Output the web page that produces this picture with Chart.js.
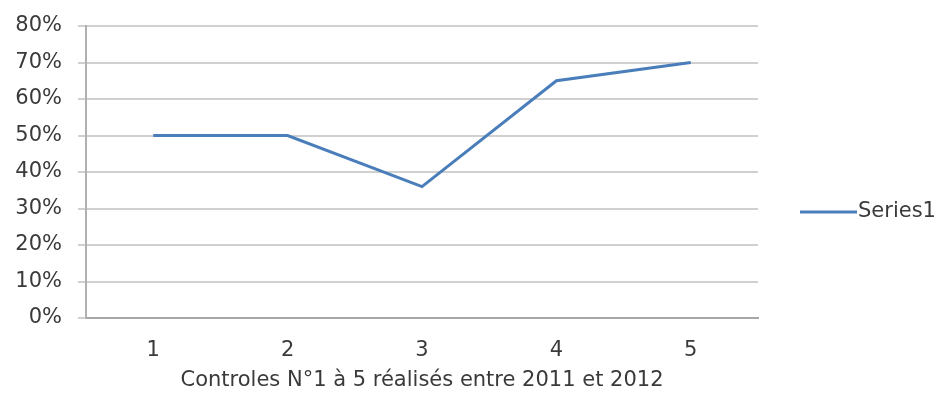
<!DOCTYPE html>
<html><head><meta charset="utf-8">
<script src="https://cdn.jsdelivr.net/npm/chart.js@4/dist/chart.umd.min.js"></script>
<style>html,body{margin:0;padding:0;background:#fff}#wrap{width:937px;height:393px}</style>
</head><body><div id="wrap"><canvas id="c" width="937" height="393"></canvas></div>
<script>
const categories = ['1', '2', '3', '4', '5'];
const series1 = [50, 50, 36, 65, 70];
const seriesName = 'Series1';
const xTitle = 'Controles N°1 à 5 réalisés entre 2011 et 2012';
const yTicks = [0, 10, 20, 30, 40, 50, 60, 70, 80];

const FONT = '"DejaVu Sans", "Open Sans", sans-serif';
const TXT = '#3a3a3a';
const FS = 21;

const legendPlugin = {
  id: 'sideLegend',
  afterDraw(chart) {
    const ctx = chart.ctx;
    const ds = chart.data.datasets[0];
    const y = 212;
    ctx.save();
    ctx.strokeStyle = ds.borderColor;
    ctx.lineWidth = 3;
    ctx.beginPath();
    ctx.moveTo(800, y);
    ctx.lineTo(857, y);
    ctx.stroke();
    ctx.fillStyle = TXT;
    ctx.font = FS + 'px ' + FONT;
    ctx.textBaseline = 'middle';
    ctx.textAlign = 'left';
    ctx.fillText(ds.label, 858, y);
    ctx.restore();
  }
};

new Chart(document.getElementById('c'), {
  type: 'line',
  data: {
    labels: categories,
    datasets: [{
      label: seriesName,
      data: series1,
      borderColor: '#4A7EBB',
      borderWidth: 3,
      pointRadius: 0,
      tension: 0,
      fill: false
    }]
  },
  options: {
    responsive: false,
    animation: false,
    layout: { padding: { left: 10, right: 179, top: 26, bottom: 0 } },
    plugins: { legend: { display: false }, tooltip: { enabled: false } },
    scales: {
      x: {
        offset: true,
        afterFit(s) { s.height = 75; },
        grid: { display: false, drawTicks: false },
        border: { display: true, color: '#a6a6a6', width: 2 },
        ticks: { color: TXT, font: { family: FONT, size: FS }, padding: 20 },
        title: { display: true, text: xTitle, color: TXT, font: { family: FONT, size: FS }, padding: { top: 0, bottom: 0 } }
      },
      y: {
        min: 0, max: 80,
        afterFit(s) { s.width = 76; s.paddingTop = 0; s.paddingBottom = 0; },
        afterBuildTicks(s) { s.ticks = yTicks.map(v => ({ value: v })); },
        grid: { color: '#d0d0d0', lineWidth: 2, tickLength: 8, drawTicks: true, tickColor: '#d0d0d0' },
        border: { display: true, color: '#b0b0b0', width: 2 },
        ticks: { color: TXT, font: { family: FONT, size: FS }, padding: 16, callback: v => v + '%' }
      }
    }
  },
  plugins: [legendPlugin]
});
</script></body></html>
